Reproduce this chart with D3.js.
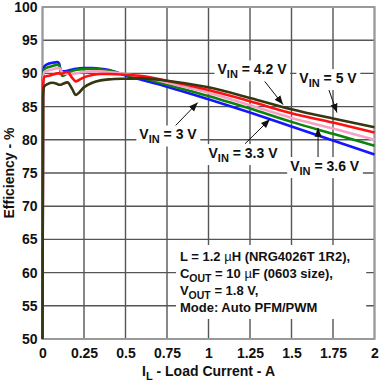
<!DOCTYPE html>
<html>
<head>
<meta charset="utf-8">
<script src="https://cdn.jsdelivr.net/npm/d3@7"></script>
<style>
  body { margin: 0; background: #fff; }
  svg text { font-family: "Liberation Sans", Arial, sans-serif; font-weight: bold; fill: #111; }
</style>
</head>
<body>
<div id="chart"></div>
<script>
// --------------- Data ---------------
const loadCurrent = [0, 0.003, 0.01, 0.03, 0.06, 0.09, 0.1, 0.11, 0.12, 0.15, 0.18, 0.2, 0.22, 0.25, 0.3, 0.35, 0.4, 0.5, 0.6, 0.75, 1, 1.25, 1.5, 1.75, 2];

const eff3V0 = [50, 89.5, 91.0, 91.4, 91.6, 91.7, 91.5, 90.4, 90.3, 90.4, 90.6, 90.7, 90.75, 90.8, 90.8, 90.7, 90.5, 89.7, 89.0, 88.0, 86.1, 84.1, 82.0, 79.9, 77.8];
const eff3V3 = [50, 89.0, 90.6, 90.9, 91.1, 91.3, 91.2, 90.2, 89.6, 90.0, 90.4, 90.5, 90.6, 90.65, 90.7, 90.6, 90.4, 89.8, 89.3, 88.3, 86.6, 84.7, 82.7, 80.9, 79.1];
const eff3V6 = [50, 88.5, 90.2, 90.4, 90.6, 90.8, 90.8, 90.5, 90.1, 89.9, 89.9, 90.0, 90.1, 90.2, 90.3, 90.3, 90.2, 89.9, 89.5, 88.6, 87.1, 85.2, 83.3, 81.7, 80.0];
const eff4V2 = [50, 88.0, 89.5, 89.6, 89.8, 90.0, 90.0, 89.9, 90.0, 90.2, 89.3, 88.8, 89.0, 89.4, 89.75, 89.9, 89.9, 89.8, 89.6, 88.9, 87.5, 85.8, 84.0, 82.6, 81.1];
const eff5V0 = [50, 86.5, 88.0, 88.4, 88.6, 88.4, 88.3, 88.3, 88.4, 88.65, 87.6, 86.75, 87.1, 87.9, 88.6, 88.95, 89.1, 89.2, 89.25, 88.9, 87.9, 86.3, 84.6, 83.2, 81.9];

const seriesNames = ["3 V", "3.3 V", "3.6 V", "4.2 V", "5 V"];
const seriesValues = [eff3V0, eff3V3, eff3V6, eff4V2, eff5V0];
const seriesColors = ["#1515ff", "#0a840a", "#f7a1c8", "#ff1010", "#363610"];

const xTicks = [0, 0.25, 0.5, 0.75, 1, 1.25, 1.5, 1.75, 2];
const xTickLabels = ["0", "0.25", "0.5", "0.75", "1", "1.25", "1.5", "1.75", "2"];
const yTicks = [50, 55, 60, 65, 70, 75, 80, 85, 90, 95, 100];

// label anchors [x, y], arrow start and arrow tip, all in data units
const labelPos = [[0.756, 80.8], [1.208, 78.0], [1.70, 76.05], [1.262, 90.6], [1.72, 89.3]];
const arrowFrom = [[0.80, 82.1], [1.22, 79.4], [1.66, 77.3], [1.31, 89.7], [1.714, 88.3]];
const arrowTo = [[0.935, 85.6], [1.37, 83.1], [1.66, 81.8], [1.449, 85.3], [1.774, 84.1]];

const noteLines = [
  ["L = 1.2 ", "\u00b5", "H (NRG4026T 1R2),"],
  ["C", "OUT", " = 10 ", "\u00b5", "F (0603 size),"],
  ["V", "OUT", " = 1.8 V,"],
  ["Mode: Auto PFM/PWM"]
];

// --------------- Layout ---------------
const WIDTH = 391;
const HEIGHT = 387;
const PLOT = { left: 42.5, right: 374.5, top: 7, bottom: 339 };

const svg = d3.select("#chart")
  .append("svg")
  .attr("width", WIDTH)
  .attr("height", HEIGHT);

const x = d3.scaleLinear().domain([0, 2]).range([PLOT.left, PLOT.right]);
const y = d3.scaleLinear().domain([50, 100]).range([PLOT.bottom, PLOT.top]);

// grid
const grid = svg.append("g");
grid.selectAll("line.v")
  .data(xTicks)
  .enter()
  .append("line")
  .attr("x1", d => x(d)).attr("x2", d => x(d))
  .attr("y1", PLOT.top).attr("y2", PLOT.bottom)
  .attr("stroke", "#555")
  .attr("stroke-width", 1.4);
grid.selectAll("line.h")
  .data(yTicks)
  .enter()
  .append("line")
  .attr("x1", PLOT.left).attr("x2", PLOT.right)
  .attr("y1", d => y(d)).attr("y2", d => y(d))
  .attr("stroke", "#555")
  .attr("stroke-width", 1.4);

svg.append("rect")
  .attr("x", PLOT.left).attr("y", PLOT.top)
  .attr("width", PLOT.right - PLOT.left)
  .attr("height", PLOT.bottom - PLOT.top)
  .attr("fill", "none")
  .attr("stroke", "#999")
  .attr("stroke-width", 2);

// axes (labels only)
const xAxis = svg.append("g")
  .attr("transform", `translate(0,${PLOT.bottom + 2})`)
  .call(d3.axisBottom(x).tickValues(xTicks).tickFormat((d, i) => xTickLabels[i]).tickSize(0).tickPadding(7));
const yAxis = svg.append("g")
  .attr("transform", `translate(${PLOT.left - 1},0)`)
  .call(d3.axisLeft(y).tickValues(yTicks).tickFormat(d3.format("d")).tickSize(0).tickPadding(4));
[xAxis, yAxis].forEach(a => {
  a.select(".domain").remove();
  a.selectAll("text")
    .attr("font-size", 14)
    .attr("font-family", "Liberation Sans, Arial, sans-serif")
    .attr("font-weight", "bold")
    .attr("fill", "#111");
});

// axis titles
svg.append("text")
  .attr("transform", `translate(14,${(PLOT.top + PLOT.bottom) / 2}) rotate(-90)`)
  .attr("text-anchor", "middle")
  .attr("font-size", 14)
  .text("Efficiency - %");

const xTitle = svg.append("text")
  .attr("x", (PLOT.left + PLOT.right) / 2)
  .attr("y", 376)
  .attr("text-anchor", "middle")
  .attr("font-size", 14);
xTitle.append("tspan").text("I");
xTitle.append("tspan").attr("font-size", 11).attr("dy", 4).text("L");
xTitle.append("tspan").attr("dy", -4).text(" - Load Current - A");

// curves
const line = d3.line()
  .x((d, i) => x(loadCurrent[i]))
  .y(d => y(d))
  .curve(d3.curveMonotoneX);

svg.append("g")
  .selectAll("path")
  .data(seriesValues)
  .enter()
  .append("path")
  .attr("d", line)
  .attr("fill", "none")
  .attr("stroke", (d, i) => seriesColors[i])
  .attr("stroke-width", 2.6)
  .attr("stroke-linejoin", "round");

// note box
const note = svg.append("g");
const noteText = note.append("text")
  .attr("font-size", 13);
noteLines.forEach((parts, li) => {
  const row = noteText.append("tspan")
    .attr("x", x(0.828))
    .attr("y", y(61.75) + li * 17);
  let sub = false;
  parts.forEach(p => {
    const t = row.append("tspan").text(p);
    if (p === "\u00b5") {
      t.attr("font-weight", "normal");
    } else if (p === "OUT") {
      t.attr("font-size", 10.5).attr("dy", 4);
      sub = true;
    } else if (sub) {
      t.attr("dy", -4);
      sub = false;
    }
  });
});
const nb = noteText.node().getBBox();
note.insert("rect", "text")
  .attr("x", nb.x - 4).attr("y", nb.y - 4)
  .attr("width", x(1.95) - nb.x + 4)
  .attr("height", nb.height + 8)
  .attr("fill", "#fff");

// VIN labels with arrows
const defs = svg.append("defs");
defs.append("marker")
  .attr("id", "head")
  .attr("viewBox", "0 0 10 10")
  .attr("refX", 10).attr("refY", 5)
  .attr("markerWidth", 9).attr("markerHeight", 9)
  .attr("markerUnits", "userSpaceOnUse")
  .attr("orient", "auto")
  .append("path")
  .attr("d", "M0,1 L10,5 L0,9 Z")
  .attr("fill", "#111");

seriesNames.forEach((name, i) => {
  const g = svg.append("g");
  g.append("line")
    .attr("x1", x(arrowFrom[i][0])).attr("y1", y(arrowFrom[i][1]))
    .attr("x2", x(arrowTo[i][0])).attr("y2", y(arrowTo[i][1]))
    .attr("stroke", "#111")
    .attr("stroke-width", 1)
    .attr("marker-end", "url(#head)");
  const t = g.append("text")
    .attr("x", x(labelPos[i][0]))
    .attr("y", y(labelPos[i][1]) + 5)
    .attr("text-anchor", "middle")
    .attr("font-size", 14);
  t.append("tspan").text("V");
  t.append("tspan").attr("font-size", 11).attr("dy", 4).text("IN");
  t.append("tspan").attr("dy", -4).text(` = ${name}`);
  const b = t.node().getBBox();
  g.insert("rect", "text")
    .attr("x", b.x - 3).attr("y", b.y - 1)
    .attr("width", b.width + 6).attr("height", b.height + 2)
    .attr("fill", "#fff");
});
</script>
</body>
</html>
